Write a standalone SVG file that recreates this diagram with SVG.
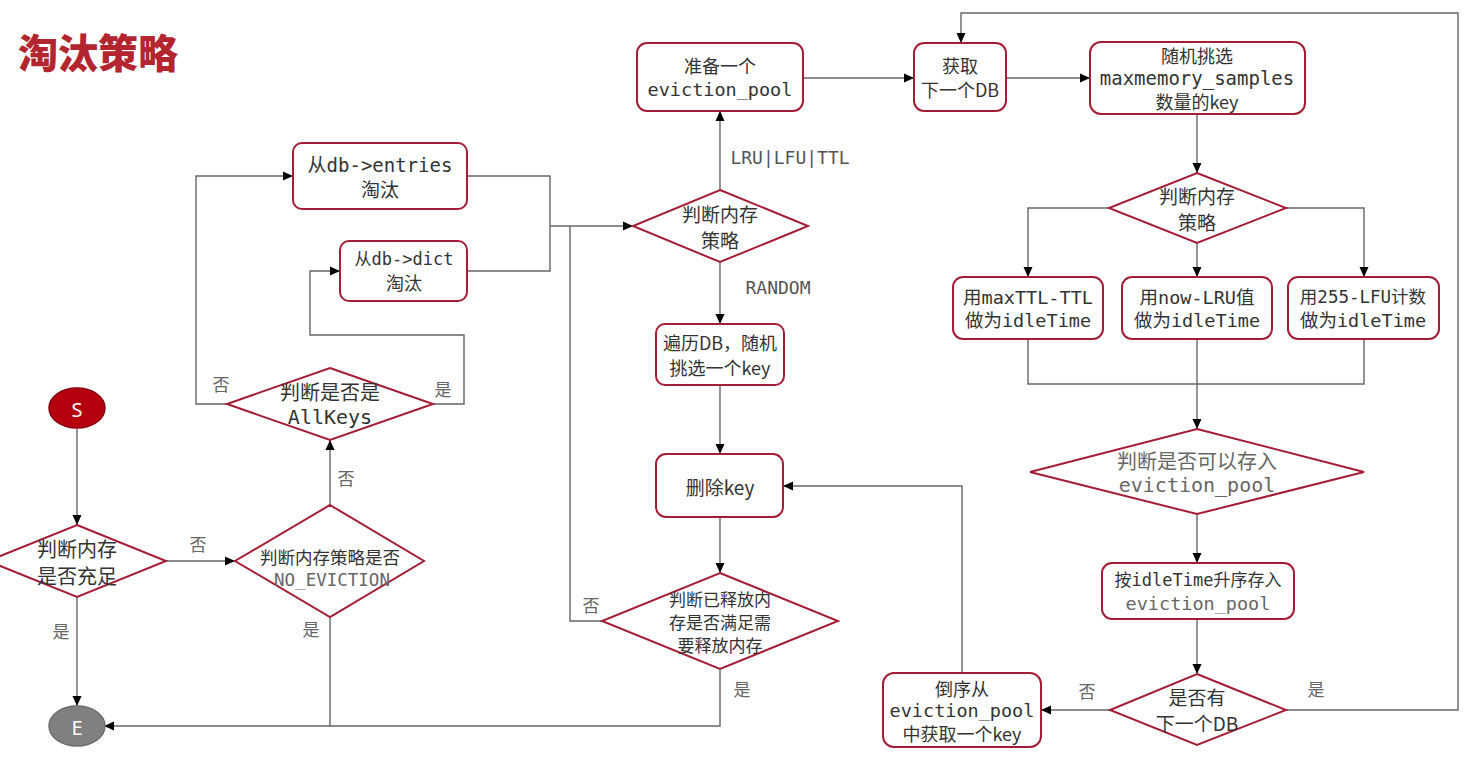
<svg xmlns="http://www.w3.org/2000/svg" width="1478" height="760" viewBox="0 0 1478 760">
<defs>
<marker id="ah" viewBox="0 0 10 10" refX="10" refY="5" markerWidth="10" markerHeight="10" markerUnits="userSpaceOnUse" orient="auto">
<path d="M0,0.5 L10,5 L0,9.5 Z" fill="#000"/>
</marker>
<style>
.n{fill:#fff;stroke:#a51d35;stroke-width:2}
.c{fill:none;stroke:#666;stroke-width:1.4}
.a{marker-end:url(#ah)}
.t{fill:#333;text-anchor:middle;dominant-baseline:central}
.m{font-family:"DejaVu Sans Mono","Noto Sans CJK SC",monospace}
.s{font-family:"Noto Sans CJK SC","Noto Sans",sans-serif}
.lt{fill:#666}
.lb{fill:#666;font-family:"Noto Sans CJK SC",sans-serif;font-size:17px;text-anchor:middle;dominant-baseline:central}
.lm{fill:#555;font-family:"DejaVu Sans Mono",monospace;font-size:18px;text-anchor:middle;dominant-baseline:central}
</style>
</defs>
<rect width="1478" height="760" fill="#fff"/>
<text x="18" y="68" font-family="Noto Sans CJK SC,sans-serif" font-size="40" font-weight="900" fill="#b3262f">淘汰策略</text>

<g id="connectors">
<path class="c a" d="M77,429 V525"/>
<path class="c a" d="M77,597 V706"/>
<path class="c a" d="M166,561 H235"/>
<path class="c a" d="M330,505 V440"/>
<path class="c a" d="M227,404 H196 V176 H293"/>
<path class="c a" d="M433,404 H464 V335 H310 V271 H340"/>
<path class="c" d="M467,176 H550 V271 H467"/>
<path class="c a" d="M550,226 H633"/>
<path class="c" d="M602,621 H570 V226"/>
<path class="c a" d="M720,190 V111"/>
<path class="c a" d="M720,262 V324"/>
<path class="c a" d="M720,385 V454"/>
<path class="c a" d="M720,517 V573"/>
<path class="c a" d="M720,669 V726 H104"/>
<path class="c" d="M330,617 V726"/>
<path class="c a" d="M803,78 H914"/>
<path class="c a" d="M1006,78 H1090"/>
<path class="c a" d="M1197,114 V173"/>
<path class="c a" d="M1109,208 H1028 V277"/>
<path class="c a" d="M1197,243 V277"/>
<path class="c a" d="M1286,208 H1364 V277"/>
<path class="c" d="M1028,339 V384 H1364 V339"/>
<path class="c a" d="M1197,339 V429"/>
<path class="c a" d="M1197,514 V563"/>
<path class="c a" d="M1197,619 V674"/>
<path class="c a" d="M1110,710 H1041"/>
<path class="c a" d="M962,673 V486 H783"/>
<path class="c a" d="M1286,710 H1458 V13 H961 V43"/>
<text class="lb" x="221" y="383">否</text>
<text class="lb" x="443" y="388">是</text>
<text class="lb" x="346" y="477">否</text>
<text class="lb" x="198" y="543">否</text>
<text class="lb" x="311" y="628">是</text>
<text class="lb" x="61" y="630">是</text>
<text class="lb" x="591" y="604">否</text>
<text class="lb" x="742" y="688">是</text>
<text class="lm" x="790" y="157">LRU|LFU|TTL</text>
<text class="lm" x="778" y="287">RANDOM</text>
<text class="lb" x="1087" y="690">否</text>
<text class="lb" x="1316" y="688">是</text>
</g>

<g id="start">
<ellipse cx="77" cy="408" rx="28" ry="20" fill="#b5000d" stroke="#8a0010" stroke-width="1.5"/>
<text x="77" y="409" fill="#fff" font-family="Noto Sans,sans-serif" font-size="20" text-anchor="middle" dominant-baseline="central">S</text>
</g>
<g id="end">
<ellipse cx="77" cy="726" rx="28" ry="20" fill="#808080" stroke="#6e6e6e" stroke-width="1.5"/>
<text x="77" y="727" fill="#fff" font-family="Noto Sans,sans-serif" font-size="20" text-anchor="middle" dominant-baseline="central">E</text>
</g>

<g id="d-mem-enough">
<path class="n" d="M77,525 L166,561 L77,597 L-12,561 Z"/>
<text class="t s" font-size="20" x="77" y="548">判断内存</text>
<text class="t s" font-size="20" x="77" y="575">是否充足</text>
</g>
<g id="d-no-eviction">
<path class="n" d="M330,505 L424,561 L330,617 L235,561 Z"/>
<text class="t s" font-size="17.5" x="330" y="556">判断内存策略是否</text>
<text class="t m lt" font-size="17.5" x="332" y="580">NO_EVICTION</text>
</g>
<g id="d-allkeys">
<path class="n" d="M330,368 L433,404 L330,440 L227,404 Z"/>
<text class="t s" font-size="20" x="330" y="391">判断是否是</text>
<text class="t m" font-size="20" x="330" y="417">AllKeys</text>
</g>
<g id="b-entries">
<rect class="n" x="293" y="143" width="174" height="66" rx="9"/>
<text class="t m" font-size="19" x="380" y="165">从db-&gt;entries</text>
<text class="t s" font-size="19" x="380" y="188">淘汰</text>
</g>
<g id="b-dict">
<rect class="n" x="340" y="241" width="127" height="60" rx="9"/>
<text class="t m" font-size="17" x="404" y="259">从db-&gt;dict</text>
<text class="t s" font-size="18" x="404" y="282">淘汰</text>
</g>
<g id="d-policy">
<path class="n" d="M720,190 L808,226 L720,262 L633,226 Z"/>
<text class="t s" font-size="19" x="720" y="213">判断内存</text>
<text class="t s" font-size="19" x="720" y="239">策略</text>
</g>
<g id="b-prepare-pool">
<rect class="n" x="637" y="43" width="166" height="68" rx="10"/>
<text class="t s" font-size="18" x="720" y="65">准备一个</text>
<text class="t m" font-size="18.5" x="720" y="89">eviction_pool</text>
</g>
<g id="b-random-key">
<rect class="n" x="656" y="324" width="128" height="61" rx="9"/>
<text class="t s" font-size="18" x="720" y="342">遍历DB，随机</text>
<text class="t s" font-size="18" x="720" y="367">挑选一个key</text>
</g>
<g id="b-delete">
<rect class="n" x="656" y="454" width="127" height="63" rx="10"/>
<text class="t s" font-size="19" x="720" y="486">删除key</text>
</g>
<g id="d-released">
<path class="n" d="M720,573 L838,621 L720,669 L602,621 Z"/>
<text class="t s" font-size="17" x="720" y="598">判断已释放内</text>
<text class="t s" font-size="17" x="720" y="621">存是否满足需</text>
<text class="t s" font-size="17" x="720" y="644">要释放内存</text>
</g>
<g id="b-next-db">
<rect class="n" x="914" y="43" width="92" height="68" rx="10"/>
<text class="t s" font-size="18" x="960" y="65">获取</text>
<text class="t s" font-size="18" x="960" y="89">下一个DB</text>
</g>
<g id="b-samples">
<rect class="n" x="1090" y="42" width="215" height="72" rx="11"/>
<text class="t s" font-size="18" x="1197" y="55">随机挑选</text>
<text class="t m" font-size="19" x="1197" y="78">maxmemory_samples</text>
<text class="t s" font-size="18" x="1197" y="101">数量的key</text>
</g>
<g id="d-policy2">
<path class="n" d="M1197,173 L1286,208 L1197,243 L1109,208 Z"/>
<text class="t s" font-size="19" x="1197" y="195">判断内存</text>
<text class="t s" font-size="19" x="1197" y="221">策略</text>
</g>
<g id="b-ttl">
<rect class="n" x="953" y="277" width="150" height="62" rx="10"/>
<text class="t m" font-size="18.5" x="1028" y="297">用maxTTL-TTL</text>
<text class="t m" font-size="18.5" x="1028" y="320">做为idleTime</text>
</g>
<g id="b-lru">
<rect class="n" x="1122" y="277" width="150" height="62" rx="10"/>
<text class="t m" font-size="18.5" x="1197" y="297">用now-LRU值</text>
<text class="t m" font-size="18.5" x="1197" y="320">做为idleTime</text>
</g>
<g id="b-lfu">
<rect class="n" x="1288" y="277" width="151" height="62" rx="10"/>
<text class="t m" font-size="17.5" x="1363" y="297">用255-LFU计数</text>
<text class="t m" font-size="18.5" x="1363" y="320">做为idleTime</text>
</g>
<g id="d-can-store">
<path class="n" d="M1197,429 L1364,472 L1197,514 L1030,472 Z"/>
<text class="t s lt" font-size="20" x="1197" y="460">判断是否可以存入</text>
<text class="t m lt" font-size="20" x="1197" y="485">eviction_pool</text>
</g>
<g id="b-store">
<rect class="n" x="1102" y="563" width="192" height="56" rx="10"/>
<text class="t m" font-size="17" x="1198" y="580">按idleTime升序存入</text>
<text class="t m lt" font-size="18.5" x="1198" y="603">eviction_pool</text>
</g>
<g id="d-has-next">
<path class="n" d="M1197,674 L1286,710 L1197,745 L1110,710 Z"/>
<text class="t s" font-size="19" x="1197" y="696">是否有</text>
<text class="t s" font-size="19" x="1197" y="722">下一个DB</text>
</g>
<g id="b-reverse">
<rect class="n" x="883" y="673" width="158" height="74" rx="11"/>
<text class="t s" font-size="18" x="962" y="688">倒序从</text>
<text class="t m" font-size="18.5" x="962" y="710">eviction_pool</text>
<text class="t s" font-size="18" x="962" y="733">中获取一个key</text>
</g>
</svg>
